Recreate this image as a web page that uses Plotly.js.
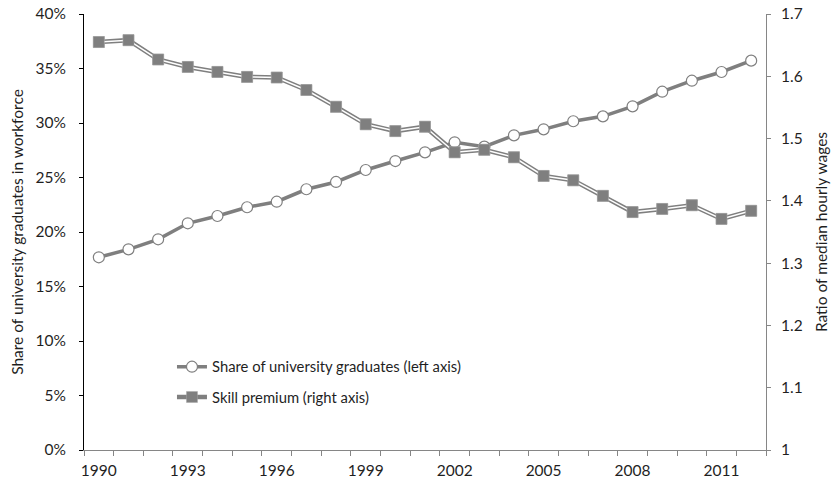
<!DOCTYPE html>
<html>
<head>
<meta charset="utf-8">
<script src="https://cdn.plot.ly/plotly-3.0.1.min.js"></script>
<style>html,body{margin:0;padding:0;background:#fff;}#chart{width:837px;height:490px;}</style>
</head>
<body>
<div id="chart"></div>
<script>
const years = [1990,1991,1992,1993,1994,1995,1996,1997,1998,1999,2000,2001,2002,2003,2004,2005,2006,2007,2008,2009,2010,2011,2012];
const shareGrads = [0.1768,0.1841,0.1933,0.2080,0.2147,0.2227,0.2278,0.2392,0.2459,0.2569,0.2651,0.2731,0.2823,0.2783,0.2887,0.2942,0.3016,0.3061,0.3153,0.3287,0.3388,0.3468,0.3572];
const skillPremium = [1.655,1.658,1.627,1.615,1.607,1.599,1.598,1.578,1.551,1.523,1.512,1.519,1.478,1.482,1.470,1.440,1.433,1.408,1.382,1.387,1.393,1.371,1.384];
const xTickLabels = [1990,1993,1996,1999,2002,2005,2008,2011];
const seriesNames = ['Share of university graduates (left axis)', 'Skill premium (right axis)'];

const FONT = 'Lato, "Open Sans", sans-serif';
const GRAY = '#7f7f7f';
const TXT = '#1f1f1f';

const traces = [
  {
    x: years, y: shareGrads, yaxis: 'y', type: 'scatter', mode: 'lines+markers',
    name: seriesNames[0], legendgroup: 'a',
    line: {color: GRAY, width: 3.5},
    marker: {symbol: 'circle', size: 11, color: '#ffffff', line: {color: GRAY, width: 1.2}}
  },
  {
    x: years, y: skillPremium, yaxis: 'y2', type: 'scatter', mode: 'lines+markers',
    name: seriesNames[1], legendgroup: 'b',
    line: {color: GRAY, width: 4.5},
    marker: {symbol: 'square', size: 11, color: GRAY, line: {color: '#a6a6a6', width: 0.5}}
  },
  {
    x: years, y: skillPremium, yaxis: 'y2', type: 'scatter', mode: 'lines',
    line: {color: '#ffffff', width: 1.5}, showlegend: false, hoverinfo: 'skip'
  },
  {
    x: years, y: skillPremium, yaxis: 'y2', type: 'scatter', mode: 'markers',
    showlegend: false, hoverinfo: 'skip',
    marker: {symbol: 'square', size: 11, color: GRAY, line: {color: '#a6a6a6', width: 0.5}}
  }
];

const layout = {
  width: 837, height: 490,
  margin: {l: 84, r: 71, t: 14, b: 40},
  paper_bgcolor: '#fff', plot_bgcolor: '#fff',
  font: {family: FONT, size: 15, color: TXT},
  showlegend: true,
  legend: {
    x: 0.129, y: 0.228, xanchor: 'left', yanchor: 'top',
    bgcolor: 'rgba(0,0,0,0)', font: {family: FONT, size: 14.8, color: TXT},
    itemwidth: 30, traceorder: 'grouped', tracegroupgap: 8
  },
  xaxis: {
    range: [1989.5, 2012.5], tickmode: 'array', tickvals: xTickLabels,
    ticktext: xTickLabels.map(String), ticks: '', showgrid: false, zeroline: false,
    showline: true, linecolor: '#868686', linewidth: 1,
    tickfont: {size: 15.5, color: TXT}, ticklabelstandoff: 6,
    minor: {tickmode: 'linear', tick0: 1989.5, dtick: 1, ticks: 'outside', ticklen: 5, tickcolor: '#868686', showgrid: false}
  },
  yaxis: {
    range: [0, 0.4], tickmode: 'linear', tick0: 0, dtick: 0.05, tickformat: '.0%',
    ticks: 'outside', ticklen: 4, tickcolor: '#000', showgrid: false, zeroline: false,
    showline: true, linecolor: '#000', linewidth: 1,
    tickfont: {size: 15.5, color: TXT}, ticklabelstandoff: 10,
    title: {text: 'Share of university graduates in workforce', font: {size: 15.5, color: TXT}, standoff: 8}
  },
  yaxis2: {
    range: [1, 1.7], tickmode: 'linear', tick0: 1, dtick: 0.1, overlaying: 'y', side: 'right',
    ticks: 'outside', ticklen: 4, tickcolor: '#868686', showgrid: false, zeroline: false,
    showline: true, linecolor: '#868686', linewidth: 1,
    tickfont: {size: 15.5, color: TXT}, ticklabelstandoff: 7,
    title: {text: 'Ratio of median hourly wages', font: {size: 15.5, color: TXT}, standoff: 14}
  }
};

Plotly.newPlot('chart', traces, layout, {displayModeBar: false, staticPlot: true});
</script>
</body>
</html>
